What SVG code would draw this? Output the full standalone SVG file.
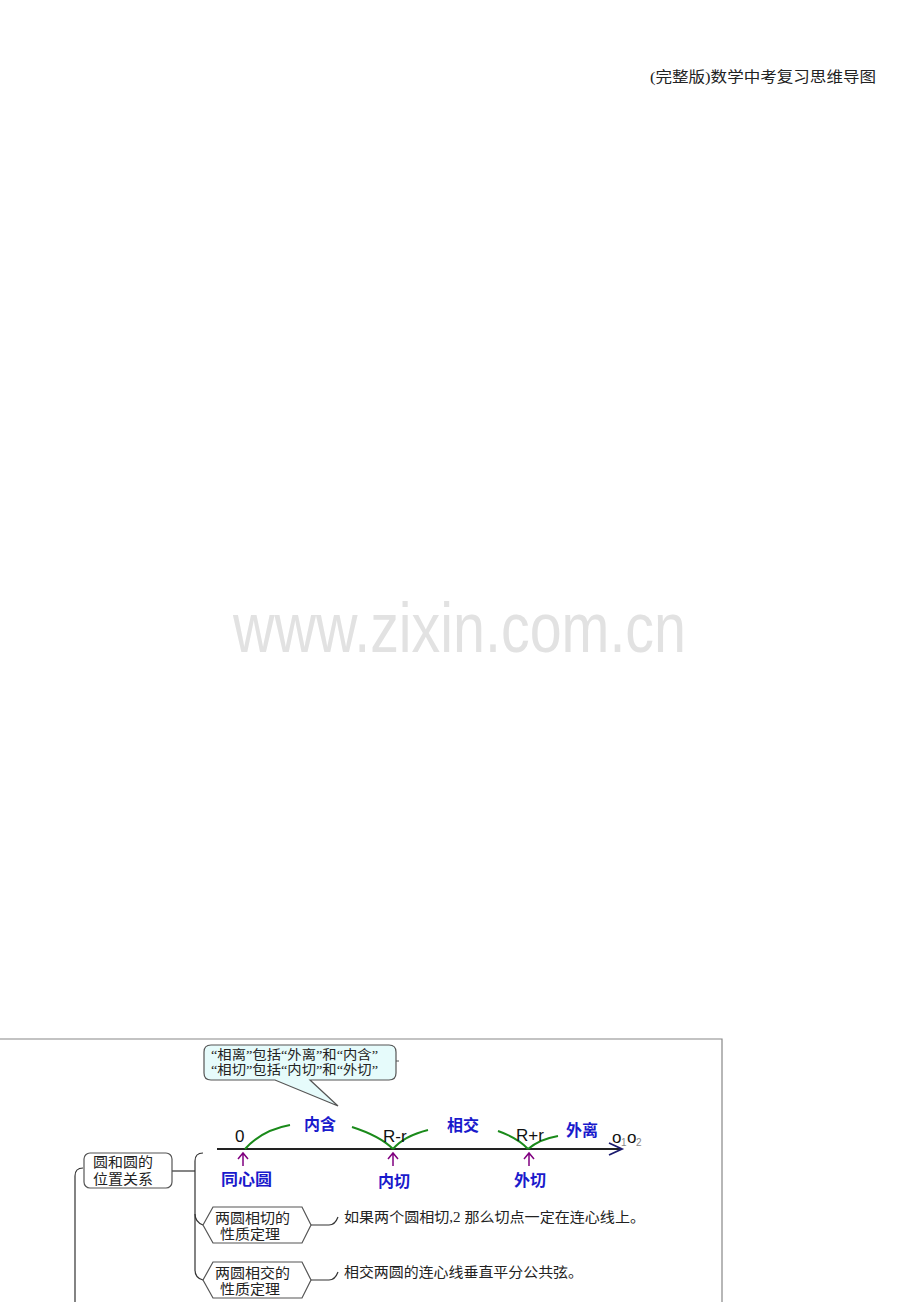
<svg xmlns="http://www.w3.org/2000/svg" width="920" height="1302" viewBox="0 0 920 1302">
<style>
.cjk{font-family:"Liberation Serif","Noto Sans CJK SC",serif;fill:#222;}
.blue{font-family:"Liberation Serif","Noto Sans CJK SC",serif;fill:#1a1acc;font-weight:bold;font-size:16px;}
.num{font-family:"Liberation Sans",Arial,sans-serif;fill:#111;font-size:17px;}
.box{fill:#fff;stroke:#555;stroke-width:1.2;}
.ln{fill:none;stroke:#333;stroke-width:1.2;}
.arc{fill:none;stroke:#1a8a1a;stroke-width:2;}
.pur{fill:none;stroke:#800080;stroke-width:1.5;}
</style>
<rect x="0" y="0" width="920" height="1302" fill="#fff"/>
<text class="cjk" x="650" y="82" font-size="15" textLength="226" lengthAdjust="spacingAndGlyphs">(完整版)数学中考复习思维导图</text>
<text x="233" y="652" font-family="Liberation Sans,Arial,sans-serif" font-size="70" fill="#e2e2e2" textLength="453" lengthAdjust="spacingAndGlyphs">www.zixin.com.cn</text>
<g id="frame">
<path d="M0,1039 L722,1039 L722,1302" fill="none" stroke="#888" stroke-width="1.2"/>
</g>
<g id="callout">
<path d="M211,1045 L389,1045 Q396,1045 396,1052 L396,1073 Q396,1080 389,1080 L310,1080 L338,1106 L275,1080 L211,1080 Q204,1080 204,1073 L204,1052 Q204,1045 211,1045 Z" fill="#e6fbfb" stroke="#555" stroke-width="1.2"/>
<line x1="396" y1="1061" x2="399" y2="1061" stroke="#555" stroke-width="1"/>
<text class="cjk" x="211" y="1059" font-size="13" textLength="167" lengthAdjust="spacingAndGlyphs">“相离”包括“外离”和“内含”</text>
<text class="cjk" x="211" y="1074" font-size="13" textLength="167" lengthAdjust="spacingAndGlyphs">“相切”包括“内切”和“外切”</text>
</g>
<g id="numberline">
<line x1="217" y1="1149" x2="622" y2="1149" stroke="#222" stroke-width="2"/>
<path d="M609,1143 L622,1149 L609,1155" fill="none" stroke="#1a1a6e" stroke-width="1.8"/>
<path class="arc" d="M245,1149 Q262,1130 290,1125"/>
<path class="arc" d="M352,1127 Q380,1136 393,1149"/>
<path class="arc" d="M393,1149 Q404,1136 428,1130"/>
<path class="arc" d="M498,1131 Q518,1138 528,1149"/>
<path class="arc" d="M528,1149 Q540,1139 558,1136"/>
<text class="num" x="235" y="1142">0</text>
<text class="num" x="383" y="1142">R-r</text>
<text class="num" x="516" y="1141">R+r</text>
<text class="num" x="612" y="1143" font-size="16">o</text>
<text x="621" y="1146" font-family="Liberation Sans,Arial,sans-serif" font-size="10" fill="#888">1</text>
<text class="num" x="627" y="1143" font-size="16">o</text>
<text x="636" y="1146" font-family="Liberation Sans,Arial,sans-serif" font-size="10" fill="#888">2</text>
<text class="blue" x="304" y="1130">内含</text>
<text class="blue" x="447" y="1131">相交</text>
<text class="blue" x="566" y="1136">外离</text>
<path class="pur" d="M243,1153 L243,1166 M238,1159 L243,1153 L248,1159"/>
<path class="pur" d="M393,1153 L393,1166 M388,1159 L393,1153 L398,1159"/>
<path class="pur" d="M529,1153 L529,1166 M524,1159 L529,1153 L534,1159"/>
<text class="blue" x="221" y="1185" textLength="51" lengthAdjust="spacingAndGlyphs">同心圆</text>
<text class="blue" x="378" y="1187">内切</text>
<text class="blue" x="514" y="1186">外切</text>
</g>
<g id="connectors">
<path class="ln" d="M75,1302 L75,1176 Q75,1168 83,1168"/>
<line class="ln" x1="172" y1="1171" x2="195" y2="1171"/>
<path class="ln" d="M203,1153 Q195,1153 195,1161 L195,1270 Q195,1278 203,1280"/>
<path class="ln" d="M195,1214 Q195,1222 203,1225"/>
<path class="ln" d="M311,1225 L329,1225 Q335,1225 338,1217"/>
<path class="ln" d="M311,1280 L329,1280 Q335,1280 338,1272"/>
</g>
<g id="node-main">
<rect class="box" x="84" y="1153" width="88" height="35" rx="6"/>
<text class="cjk" x="93" y="1167" font-size="14" textLength="60" lengthAdjust="spacingAndGlyphs">圆和圆的</text>
<text class="cjk" x="93" y="1184" font-size="14" textLength="60" lengthAdjust="spacingAndGlyphs">位置关系</text>
</g>
<g id="node-tangent">
<polygon class="box" points="203,1225 213,1207 302,1207 311,1225 302,1243 213,1243"/>
<text class="cjk" x="215" y="1223" font-size="14" textLength="75" lengthAdjust="spacingAndGlyphs">两圆相切的</text>
<text class="cjk" x="220" y="1239" font-size="14" textLength="60" lengthAdjust="spacingAndGlyphs">性质定理</text>
</g>
<g id="node-intersect">
<polygon class="box" points="203,1280 213,1262 302,1262 311,1280 302,1298 213,1298"/>
<text class="cjk" x="215" y="1278" font-size="14" textLength="75" lengthAdjust="spacingAndGlyphs">两圆相交的</text>
<text class="cjk" x="220" y="1294" font-size="14" textLength="60" lengthAdjust="spacingAndGlyphs">性质定理</text>
</g>
<g id="text-tangent">
<text class="cjk" x="344" y="1222" font-size="14" textLength="301" lengthAdjust="spacingAndGlyphs">如果两个圆相切,2 那么切点一定在连心线上。</text>
</g>
<g id="text-intersect">
<text class="cjk" x="344" y="1277" font-size="14" textLength="239" lengthAdjust="spacingAndGlyphs">相交两圆的连心线垂直平分公共弦。</text>
</g>
</svg>
